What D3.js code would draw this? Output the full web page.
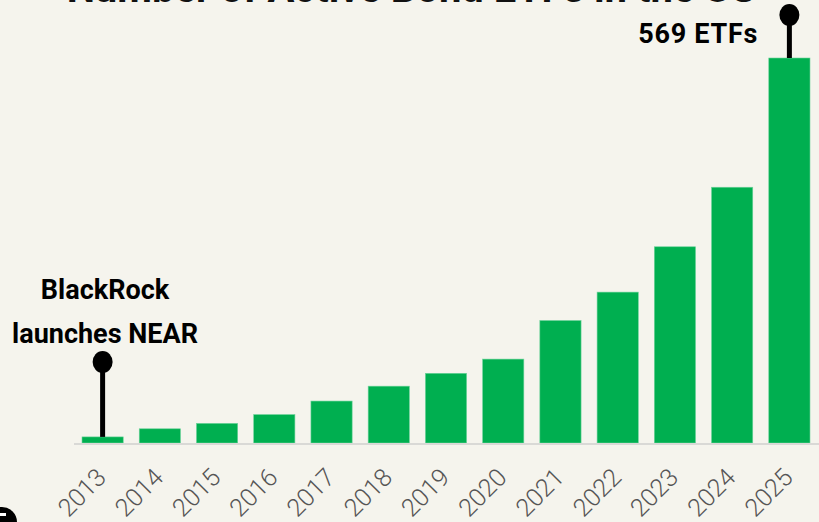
<!DOCTYPE html>
<html>
<head>
<meta charset="utf-8">
<script src="https://cdn.jsdelivr.net/npm/d3@7"></script>
<style>
  html, body { margin: 0; padding: 0; background: #f5f4ed; }
  svg { display: block; }
</style>
</head>
<body>
<script>
// data
const years = ["2013", "2014", "2015", "2016", "2017", "2018", "2019",
               "2020", "2021", "2022", "2023", "2024", "2025"];
const etfCounts = [9, 21, 29, 42, 62, 84, 103, 124, 181, 223, 290, 378, 569];
const titleText = "Number of Active Bond ETFs in the US";
const notes = [
  { year: "2013", lines: ["BlackRock", "launches NEAR"] },
  { year: "2025", lines: ["569 ETFs"] }
];

const width = 819;
const height = 522;
const green = "#00af50";

const svg = d3.select("body").append("svg")
  .attr("width", width)
  .attr("height", height);

// x scale
const x = d3.scaleBand()
  .domain(years)
  .range([74, 818])
  .paddingInner(0.28)
  .paddingOuter(0.14);

// y scale
const y = d3.scaleLinear()
  .domain([0, d3.max(etfCounts)])
  .range([443, 58]);

// title (mostly cropped off the top)
svg.append("text")
  .attr("x", 411)
  .attr("y", 2)
  .attr("text-anchor", "middle")
  .style("font-family", "Roboto, sans-serif")
  .style("font-weight", 700)
  .style("font-size", "40px")
  .attr("fill", "#111")
  .text(titleText);

// bars
svg.append("g")
  .selectAll("rect")
  .data(years)
  .enter()
  .append("rect")
  .attr("x", d => x(d))
  .attr("y", (d, i) => y(etfCounts[i]))
  .attr("width", x.bandwidth())
  .attr("height", (d, i) => y(0) - y(etfCounts[i]))
  .attr("fill", green)
  .attr("stroke", "#6cd39a")
  .attr("stroke-width", 0.6);

// baseline
svg.append("line")
  .attr("x1", 74)
  .attr("x2", width)
  .attr("y1", y(0) + 1)
  .attr("y2", y(0) + 1)
  .attr("stroke", "#d9d9d6")
  .attr("stroke-width", 2);

// x axis labels
const xAxis = svg.append("g")
  .attr("transform", "translate(0," + (y(0) + 36) + ")")
  .call(d3.axisBottom(x).tickSize(0).tickPadding(0));
xAxis.select(".domain").remove();
xAxis.selectAll("text")
  .attr("transform", "translate(5,0) rotate(-45)")
  .attr("text-anchor", "end")
  .attr("dy", 0)
  .attr("fill", "#555")
  .style("font-family", "Roboto, sans-serif")
  .style("font-weight", 300)
  .style("font-size", "25px");

// pins + notes
const pinTop = { "2013": 362, "2025": 15 };
notes.forEach(n => {
  const i = years.indexOf(n.year);
  const cx = x(n.year) + x.bandwidth() / 2;
  svg.append("line")
    .attr("x1", cx).attr("x2", cx)
    .attr("y1", pinTop[n.year])
    .attr("y2", y(etfCounts[i]))
    .attr("stroke", "#000")
    .attr("stroke-width", 5);
  svg.append("ellipse")
    .attr("cx", cx)
    .attr("cy", pinTop[n.year])
    .attr("rx", 10)
    .attr("ry", 11)
    .attr("fill", "#000");
});

const noteStyle = sel => sel
  .style("font-family", "Roboto, sans-serif")
  .style("font-weight", 700)
  .style("font-size", "27px")
  .attr("fill", "#000");

svg.append("text")
  .attr("x", 105)
  .attr("y", 299)
  .attr("text-anchor", "middle")
  .call(noteStyle)
  .text(notes[0].lines[0]);
svg.append("text")
  .attr("x", 105)
  .attr("y", 343)
  .attr("text-anchor", "middle")
  .call(noteStyle)
  .text(notes[0].lines[1]);
svg.append("text")
  .attr("x", 758)
  .attr("y", 43)
  .attr("text-anchor", "end")
  .call(noteStyle)
  .style("letter-spacing", "0.7px")
  .text(notes[1].lines[0]);

// logo corner (cropped)
svg.append("circle")
  .attr("cx", 2)
  .attr("cy", 522)
  .attr("r", 15)
  .attr("fill", "#000");
svg.append("rect")
  .attr("x", 0)
  .attr("y", 513)
  .attr("width", 6)
  .attr("height", 3)
  .attr("fill", "#fff");
</script>
</body>
</html>
